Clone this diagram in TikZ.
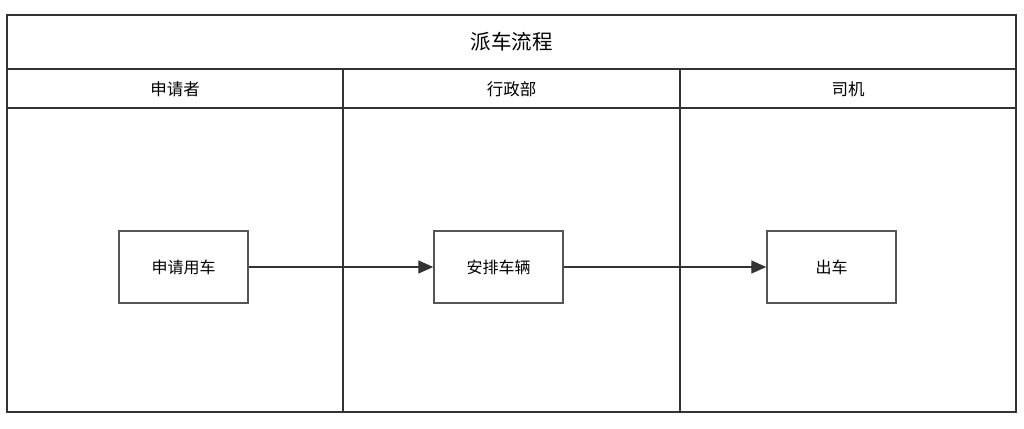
\documentclass[tikz,border=0pt]{standalone}
\usepackage{fontspec}
\setmainfont{Noto Sans CJK SC}
\usetikzlibrary{arrows.meta}
\definecolor{lane}{HTML}{333333}
\definecolor{boxline}{HTML}{555555}
\tikzset{
  lanebox/.style={draw=lane,line width=1.8pt},
  task/.style={draw=boxline,line width=1.4pt,minimum width=129pt,minimum height=72pt,inner sep=0pt,font=\fontsize{16}{18}\selectfont},
  head/.style={font=\fontsize{16.5}{18}\selectfont},
  flow/.style={draw=lane,line width=1.3pt,-{Triangle[length=15pt,width=13pt]}}
}
\begin{document}
\begin{tikzpicture}[x=1pt,y=-1pt]
\useasboundingbox (0,0) rectangle (1024,428);
\draw[lanebox] (7,15) rectangle (1016,412);
\draw[lanebox] (7,69) -- (1016,69);
\draw[lanebox] (7,108) -- (1016,108);
\draw[lanebox] (343,69) -- (343,412);
\draw[lanebox] (680,69) -- (680,412);
\node[font=\fontsize{20.5}{22}\selectfont] (title) at (511.5,42) {派车流程};
\node[head] (h1) at (175,89) {申请者};
\node[head] (h2) at (511.5,89) {行政部};
\node[head] (h3) at (848,89) {司机};
\node[task] (apply) at (183.5,267) {申请用车};
\node[task] (arrange) at (498.5,267) {安排车辆};
\node[task] (go) at (831.5,267) {出车};
\draw[flow] (apply) -- (arrange);
\draw[flow] (arrange) -- (go);
\end{tikzpicture}
\end{document}
